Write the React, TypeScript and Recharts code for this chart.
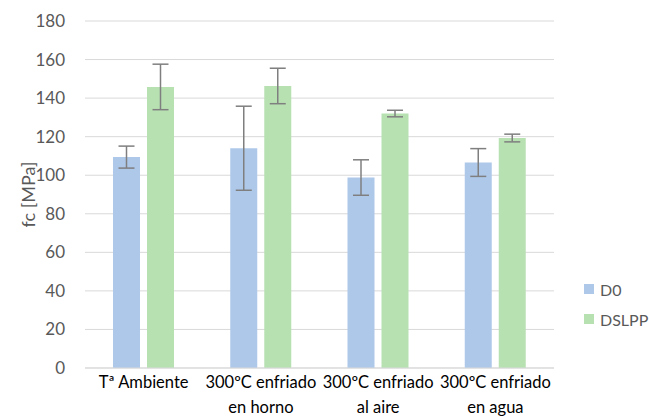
import { Bar, BarChart, CartesianGrid, ErrorBar, XAxis, YAxis } from 'recharts';

// Compressive strength by curing condition
const categories = ['Tª Ambiente', '300ºC enfriado|en horno', '300ºC enfriado|al aire', '300ºC enfriado|en agua'];
const d0Values = [109.4, 114, 98.8, 106.6];
const d0Errors = [5.7, 21.8, 9.2, 7.2];
const dslppValues = [145.8, 146.3, 132, 119.3];
const dslppErrors = [11.8, 9.2, 1.7, 2];
const yTicks = [0, 20, 40, 60, 80, 100, 120, 140, 160, 180];

const data = categories.map((name, i) => ({
  name,
  d0: d0Values[i],
  d0Err: d0Errors[i],
  dslpp: dslppValues[i],
  dslppErr: dslppErrors[i],
}));

const FONT = 'Lato, "Open Sans", sans-serif';
const BLUE = '#aec8ea';
const GREEN = '#b8e1b2';
const TEXT = '#595959';

const legendItems = [
  { label: 'D0', color: BLUE },
  { label: 'DSLPP', color: GREEN },
];

const CategoryTick = (props: any) => {
  const { x, y, payload } = props;
  const lines = String(payload.value).split('|');
  return (
    <g transform={`translate(${x},${y})`}>
      {lines.map((line, i) => (
        <text key={i} x={0} y={i * 25} dy={12} textAnchor="middle" fill="#000" fontSize={16.5} fontFamily={FONT}>
          {line}
        </text>
      ))}
    </g>
  );
};

const App = () => {
  return (
    <div style={{ position: 'absolute', left: 0, top: 0, width: 649, height: 420, background: '#fff', overflow: 'hidden' }}>
      <BarChart
        width={649}
        height={420}
        data={data}
        margin={{ top: 21, right: 95, left: 25, bottom: 0 }}
        barSize={27}
        barGap={7}
      >
        <CartesianGrid vertical={false} stroke="#d9d9d9" />
        <XAxis
          dataKey="name"
          tick={<CategoryTick />}
          tickLine={false}
          axisLine={{ stroke: '#d9d9d9' }}
          interval={0}
          height={52}
        />
        <YAxis
          domain={[0, 180]}
          ticks={yTicks}
          width={60}
          tickLine={false}
          axisLine={false}
          tick={{ fill: TEXT, fontSize: 17, fontFamily: FONT }}
          tickMargin={14}
          label={{
            value: 'fc [MPa]',
            angle: -90,
            position: 'insideLeft',
            offset: 0,
            dx: 4,
            style: { fill: TEXT, fontSize: 18, fontFamily: FONT, textAnchor: 'middle' },
          }}
        />
        <Bar dataKey="d0" name="D0" fill={BLUE} isAnimationActive={false}>
          <ErrorBar dataKey="d0Err" width={8} stroke="#7f7f7f" strokeWidth={1.5} />
        </Bar>
        <Bar dataKey="dslpp" name="DSLPP" fill={GREEN} isAnimationActive={false}>
          <ErrorBar dataKey="dslppErr" width={8} stroke="#7f7f7f" strokeWidth={1.5} />
        </Bar>
      </BarChart>
      <div
        style={{
          position: 'absolute',
          left: 584,
          top: 274,
          width: 70,
          whiteSpace: 'nowrap',
          fontFamily: FONT,
          fontSize: 16,
          color: TEXT,
        }}
      >
        {legendItems.map((item) => (
          <div key={item.label} style={{ display: 'flex', alignItems: 'center', height: 30 }}>
            <span style={{ display: 'inline-block', width: 10, height: 10, background: item.color, marginRight: 6 }} />
            {item.label}
          </div>
        ))}
      </div>
    </div>
  );
};

export default App;
